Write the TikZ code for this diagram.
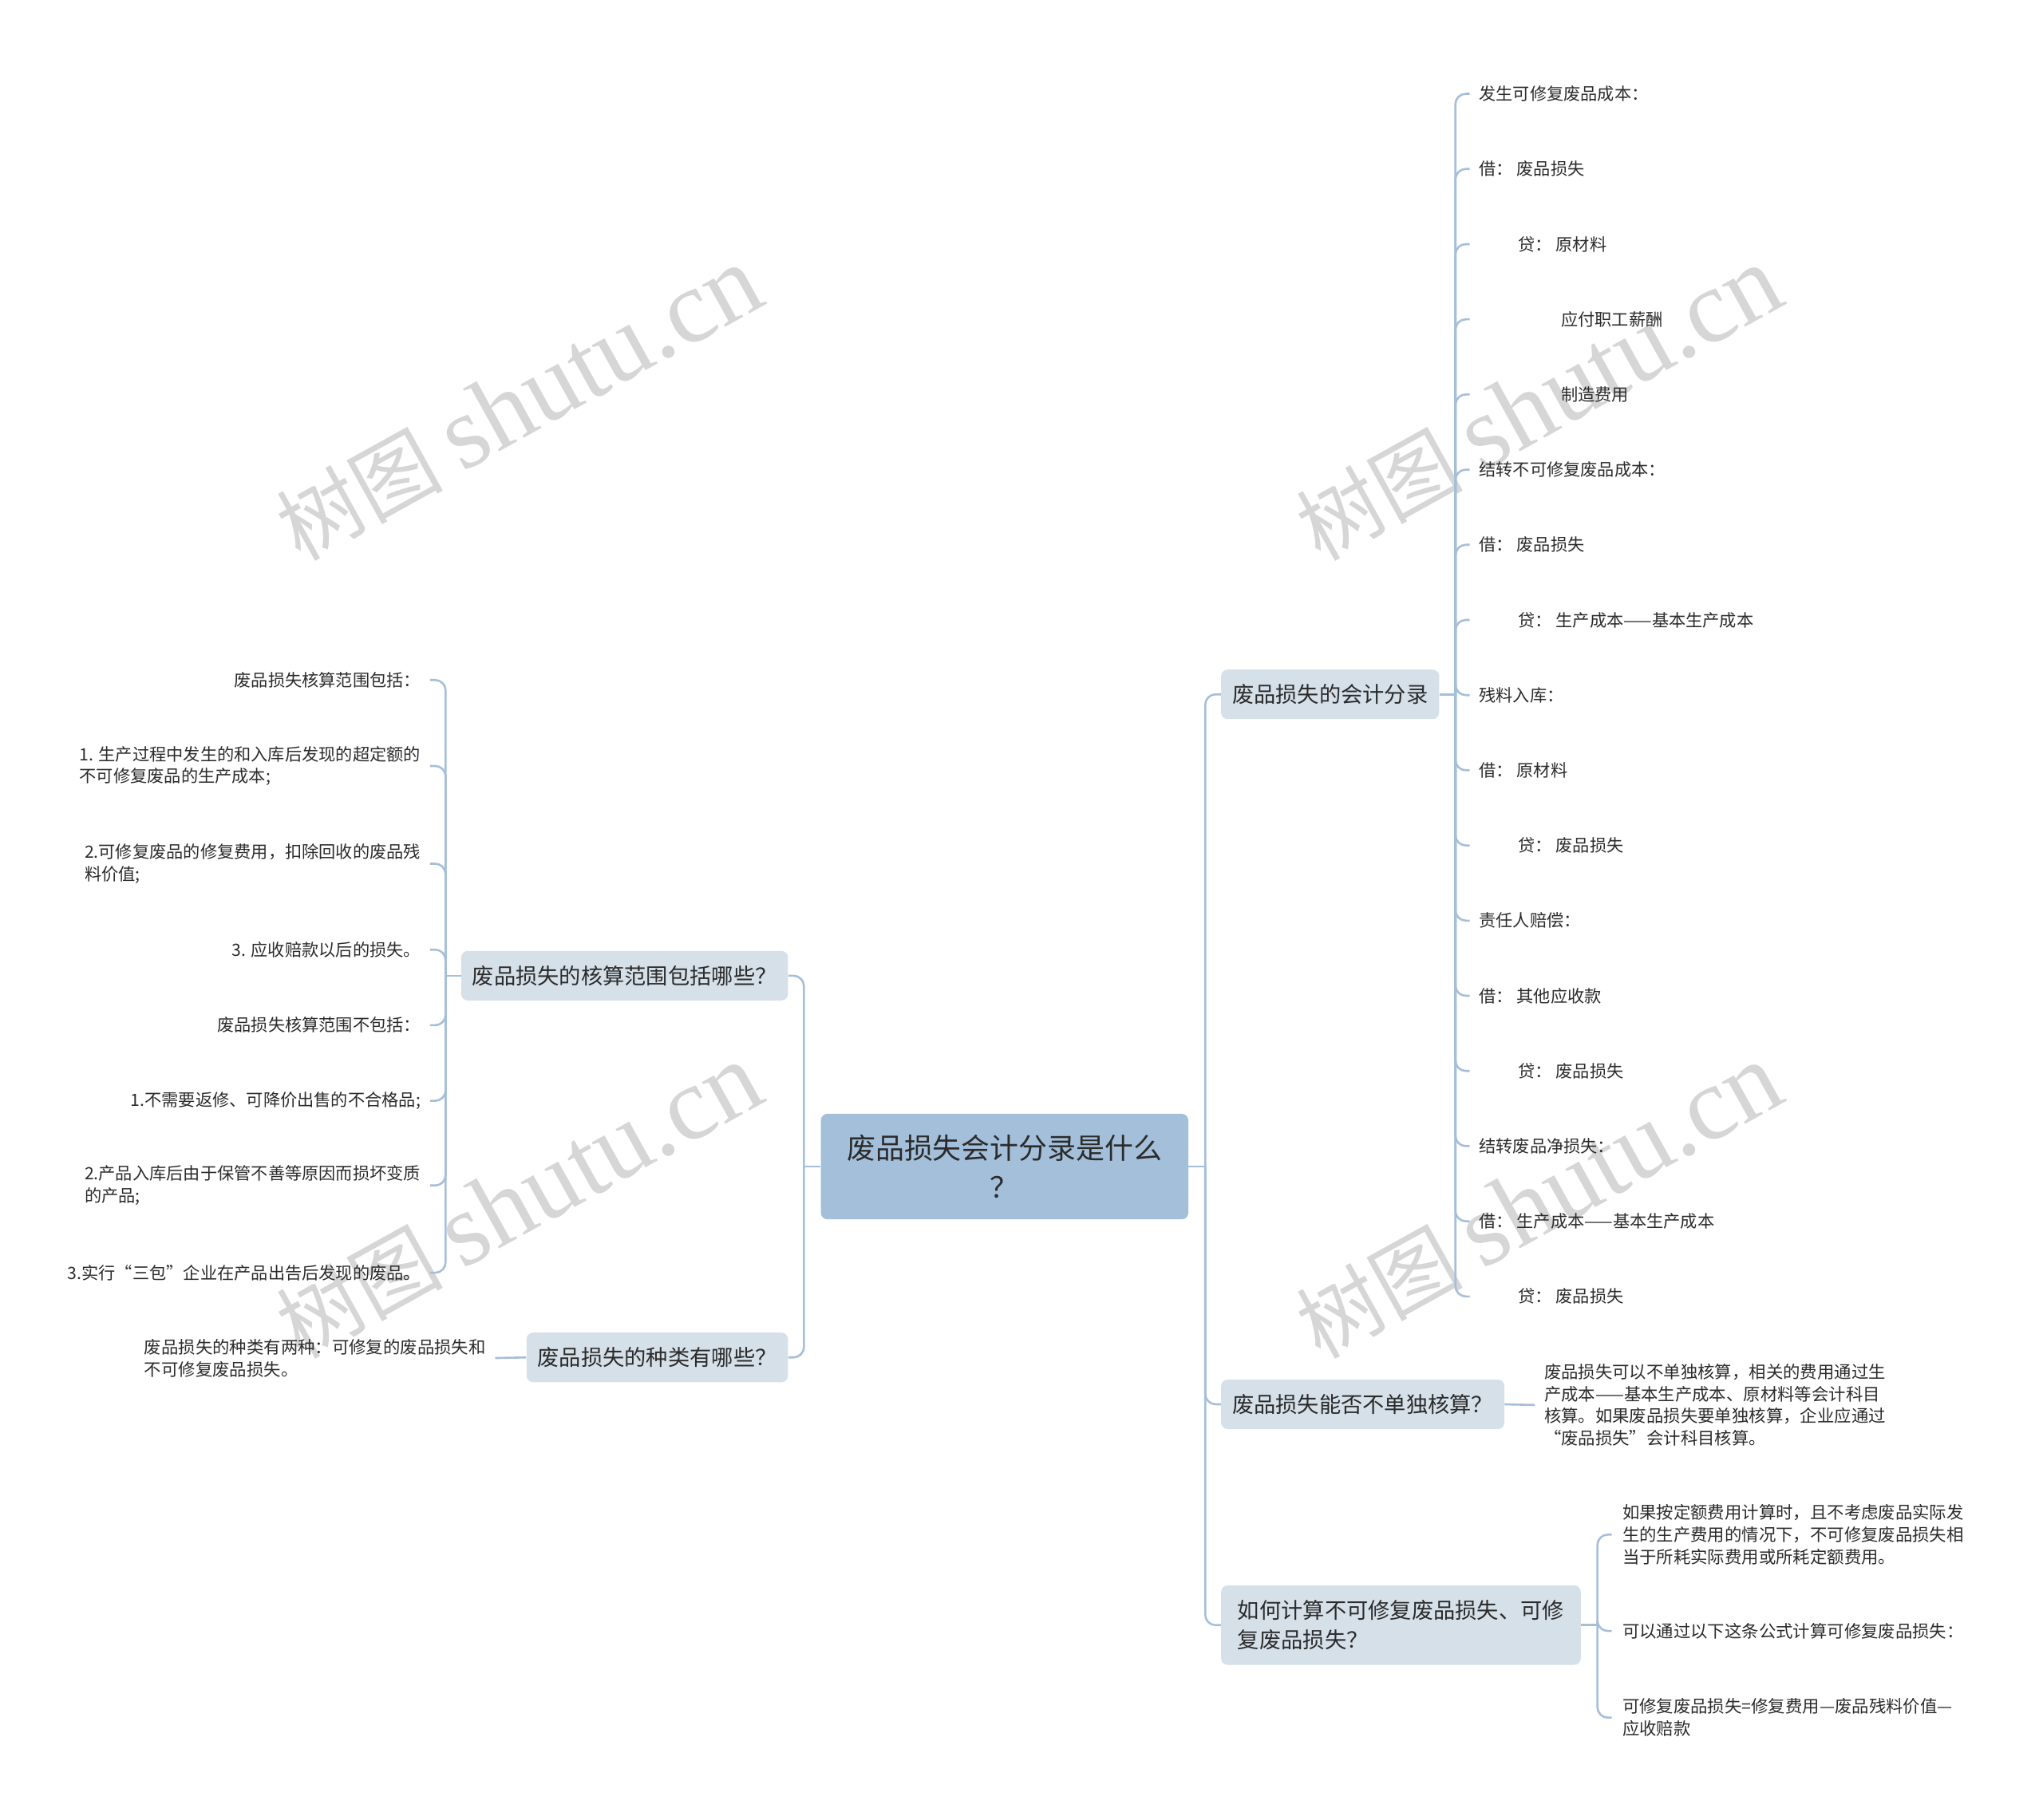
\documentclass[tikz,border=0pt]{standalone}
\usepackage{fontspec}
\setmainfont{Noto Sans CJK SC}
\newfontfamily\wmlat{Liberation Serif}
\definecolor{lineblue}{HTML}{A6BFD9}
\definecolor{centerfill}{HTML}{A3BFDA}
\definecolor{branchfill}{HTML}{D5E0E9}
\definecolor{textdark}{HTML}{2B2B2B}
\definecolor{wmgray}{HTML}{D6D6D6}
\begin{document}
\begin{tikzpicture}[x=1pt,y=-1pt,
  conn/.style={draw=lineblue, line width=1.6pt, rounded corners=8pt},
  centerbox/.style={fill=centerfill, rounded corners=5pt, text=textdark,
    font=\fontsize{22}{30}\selectfont, align=center, minimum width=282pt,
    minimum height=81pt, inner sep=0pt},
  branchbox/.style={fill=branchfill, rounded corners=5pt, text=textdark,
    font=\fontsize{16.7}{23}\selectfont, inner xsep=8.5pt, inner ysep=0pt,
    minimum height=38pt, align=left},
  leafa/.style={text=textdark, font=\fontsize{13}{17}\selectfont,
    inner xsep=7pt, inner ysep=2pt},
  leafb/.style={text=textdark, font=\fontsize{13.1}{17}\selectfont,
    inner xsep=7pt, inner ysep=2pt, align=left},
  wm/.style={text=wmgray, rotate=29, inner sep=0pt}
]
\useasboundingbox (0,0) rectangle (1568,1397);

% watermarks
\foreach \wx/\wy/\wn in {398/310/wa, 1181/310/wb, 398/922/wc, 1181/922/wd}{
  \node[wm] (\wn) at (\wx,\wy) {\fontsize{64}{70}\selectfont 树图 {\wmlat\fontsize{80}{86}\selectfont shutu.cn}};
}

% center
\node[centerbox] (c) at (771,895.5) {废品损失会计分录是什么\\？};

% right branches
\node[branchbox, anchor=west] (b1) at (937,533) {废品损失的会计分录};
\node[branchbox, anchor=west] (b2) at (937,1078) {废品损失能否不单独核算？};
\node[branchbox, anchor=west, minimum height=61pt, minimum width=276pt] (b3) at (937,1247.5) {如何计算不可修复废品损失、可修\\复废品损失？};

% left branches
\node[branchbox, anchor=east] (b4) at (605,749) {废品损失的核算范围包括哪些？};
\node[branchbox, anchor=east] (b5) at (605,1042) {废品损失的种类有哪些？};

% junctions
\coordinate (jr) at (925,895.5);
\coordinate (jl) at (617,895.5);
\coordinate (j1) at (1117,533);
\coordinate (j3) at (1226,1247.5);
\coordinate (j4) at (342,749);

% b1 leaves
\node[leafa, anchor=west] (r1) at (1128,72) {发生可修复废品成本：};
\node[leafa, anchor=west] (r2) at (1128,129.7) {借： 废品损失};
\node[leafa, anchor=west] (r3) at (1128,187.4) {\hspace*{30pt}贷： 原材料};
\node[leafa, anchor=west] (r4) at (1128,245.1) {\hspace*{63pt}应付职工薪酬};
\node[leafa, anchor=west] (r5) at (1128,302.8) {\hspace*{63pt}制造费用};
\node[leafa, anchor=west] (r6) at (1128,360.5) {结转不可修复废品成本：};
\node[leafa, anchor=west] (r7) at (1128,418.2) {借： 废品损失};
\node[leafa, anchor=west] (r8) at (1128,475.9) {\hspace*{30pt}贷： 生产成本——基本生产成本};
\node[leafa, anchor=west] (r9) at (1128,533.6) {残料入库：};
\node[leafa, anchor=west] (r10) at (1128,591.3) {借： 原材料};
\node[leafa, anchor=west] (r11) at (1128,649) {\hspace*{30pt}贷： 废品损失};
\node[leafa, anchor=west] (r12) at (1128,706.7) {责任人赔偿：};
\node[leafa, anchor=west] (r13) at (1128,764.4) {借： 其他应收款};
\node[leafa, anchor=west] (r14) at (1128,822.1) {\hspace*{30pt}贷： 废品损失};
\node[leafa, anchor=west] (r15) at (1128,879.8) {结转废品净损失：};
\node[leafa, anchor=west] (r16) at (1128,937.5) {借： 生产成本——基本生产成本};
\node[leafa, anchor=west] (r17) at (1128,995.2) {\hspace*{30pt}贷： 废品损失};

% b2 leaf
\node[leafb, anchor=west] (s1) at (1178,1078.5) {废品损失可以不单独核算，相关的费用通过生\\产成本——基本生产成本、原材料等会计科目\\核算。如果废品损失要单独核算，企业应通过\\“废品损失”会计科目核算。};

% b3 leaves
\node[leafb, anchor=west, inner xsep=8pt] (t1) at (1237,1178) {如果按定额费用计算时，且不考虑废品实际发\\生的生产费用的情况下，不可修复废品损失相\\当于所耗实际费用或所耗定额费用。};
\node[leafb, anchor=west, inner xsep=8pt] (t2) at (1237,1252) {可以通过以下这条公式计算可修复废品损失：};
\node[leafb, anchor=west, inner xsep=8pt] (t3) at (1237,1318.5) {可修复废品损失=修复费用—废品残料价值—\\应收赔款};

% b4 leaves
\node[leafa, anchor=east] (l1) at (330,522) {废品损失核算范围包括：};
\node[leafa, anchor=east, align=left] (l2) at (330,588) {1. 生产过程中发生的和入库后发现的超定额的\\不可修复废品的生产成本;};
\node[leafa, anchor=east, align=left] (l3) at (330,663) {2.可修复废品的修复费用，扣除回收的废品残\\料价值;};
\node[leafa, anchor=east] (l4) at (330,729) {3. 应收赔款以后的损失。};
\node[leafa, anchor=east] (l5) at (330,787) {废品损失核算范围不包括：};
\node[leafa, anchor=east] (l6) at (330,845) {1.不需要返修、可降价出售的不合格品;};
\node[leafa, anchor=east, align=left] (l7) at (330,910) {2.产品入库后由于保管不善等原因而损坏变质\\的产品;};
\node[leafa, anchor=east] (l8) at (330,977) {3.实行“三包”企业在产品出告后发现的废品。};

% b5 leaf
\node[leafb, anchor=east] (u1) at (380,1042.5) {废品损失的种类有两种：可修复的废品损失和\\不可修复废品损失。};

% connectors: center to branches
\draw[conn] (c.east) -- (jr);
\draw[conn] (jr) |- (b1.west);
\draw[conn] (jr) |- (b2.west);
\draw[conn] (jr) |- (b3.west);
\draw[conn] (c.west) -- (jl);
\draw[conn] (jl) |- (b4.east);
\draw[conn] (jl) |- (b5.east);

% b1 to leaves
\draw[conn] (b1.east) -- (j1);
\foreach \k in {1,...,17}{
  \draw[conn] (j1) |- (r\k.west);
}

% b2 to leaf
\draw[conn] (b2.east) -- (s1.west);

% b3 to leaves
\draw[conn] (b3.east) -- (j3);
\foreach \k in {1,2,3}{
  \draw[conn] (j3) |- (t\k.west);
}

% b4 to leaves
\draw[conn] (b4.west) -- (j4);
\foreach \k in {1,...,8}{
  \draw[conn] (j4) |- (l\k.east);
}

% b5 to leaf
\draw[conn] (b5.west) -- (u1.east);
\end{tikzpicture}
\end{document}
